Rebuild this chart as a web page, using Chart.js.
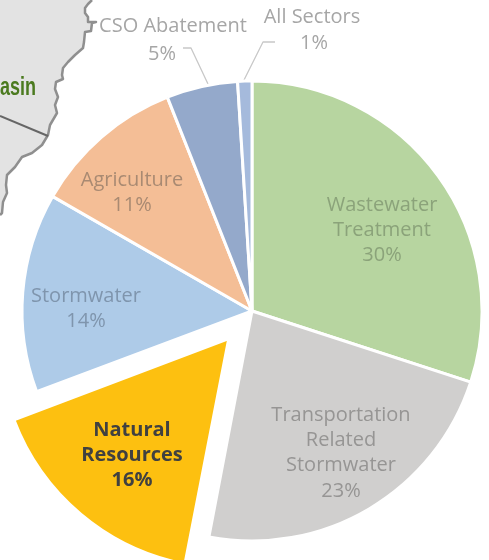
<!DOCTYPE html>
<html><head><meta charset="utf-8">
<style>html,body{margin:0;padding:0;background:#fff}#w{position:relative;width:489px;height:560px}</style>
<script src="https://cdn.jsdelivr.net/npm/chart.js@4"></script>
</head><body><div id="w"><canvas id="c" width="489" height="560"></canvas></div>
<script>
const categories = ["Wastewater Treatment","Transportation Related Stormwater","Natural Resources","Stormwater","Agriculture","CSO Abatement","All Sectors"];
const shares = [30,23,16.3,14,10.7,5,1];
const sliceColors = ["#B7D5A0","#D0CFCE","#FDC010","#AECBE8","#F4BE96","#94A9CB","#A5BADC"];
const labelLines = [["Wastewater","Treatment"],["Transportation","Related","Stormwater"],["Natural","Resources"],["Stormwater"],["Agriculture"],["CSO Abatement"],["All Sectors"]];
const labelCenters = [[382,230],[341,453],[132,455],[86,309],[132,193],[173,39],[312,30]];
const percentShift = {5:[-11,3],6:[2,1]};
const labelColors = ["#8BA37A","#969594","#404040","#7F95AD","#A98A72","#A6A6A6","#A6A6A6"];
const shore = [[92,0],[88,4],[85,8],[85,13],[88,17],[88,22],[96,22],[92,23],[91,31],[85,32],[84,42],[83,48],[75,55],[68,62],[63,68],[62,75],[63,79],[56,82],[55,89],[58,97],[55,105],[57,113],[50,125],[48,135],[42,145],[32,153],[22,157],[15,167],[7,175],[6,185],[7,193],[3,202],[2,213],[0,215]];
const FONT = '"Open Sans","Liberation Sans",sans-serif';
const backdrop = { id:"backdrop", beforeDatasetsDraw(ch){ const x=ch.ctx; 
  const arc=ch.getDatasetMeta(0).data[2]; arc.outerRadius=224.5;
  x.save();
  x.beginPath(); x.moveTo(0,0); shore.forEach(p=>x.lineTo(p[0],p[1])); x.closePath();
  x.fillStyle="#E3E3E3"; x.fill();
  x.beginPath(); shore.forEach((p,i)=>i?x.lineTo(p[0],p[1]):x.moveTo(p[0],p[1]));
  x.strokeStyle="#8F8F8F"; x.lineWidth=2.5; x.lineJoin="round"; x.stroke();
  x.beginPath(); x.moveTo(0,116); x.lineTo(48,136); x.strokeStyle="#666"; x.lineWidth=2; x.stroke();
  x.save(); x.scale(0.72,1); x.fillStyle="#4B7A1F"; x.font='bold 25px "Liberation Sans",sans-serif'; x.textAlign="left"; x.textBaseline="alphabetic"; x.fillText("asin",0,95); x.restore();
  x.strokeStyle="#C8C8C8"; x.lineWidth=1.3;
  x.beginPath(); x.moveTo(183,48); x.lineTo(191,48); x.lineTo(208,84); x.stroke();
  x.beginPath(); x.moveTo(275,42); x.lineTo(263,42); x.lineTo(244,80); x.stroke();
  x.restore(); } };
const labels = { id:"labels", afterDatasetsDraw(ch){ const x=ch.ctx; x.save(); x.textAlign="center"; x.textBaseline="middle";
  categories.forEach((c,i)=>{ const lines=labelLines[i].concat(Math.round(shares[i])+"%"), h=25.2, bold=i===2;
    const y0=labelCenters[i][1]-(lines.length-1)*h/2;
    x.fillStyle=labelColors[i]; x.font=(bold?"bold ":"")+"20px "+FONT;
    lines.forEach((t,k)=>{ const s=(k===lines.length-1&&percentShift[i])||[0,0];
      x.fillText(t,labelCenters[i][0]+s[0],y0+k*h+s[1]); }); });
  x.restore(); } };
new Chart(document.getElementById("c"),{type:"pie",
  data:{labels:categories,datasets:[{data:shares,backgroundColor:sliceColors,borderColor:"#fff",borderWidth:3,
    offset:shares.map((v,i)=>i===2?144:0)}]},
  options:{responsive:false,animation:false,radius:230,
    layout:{padding:{left:15,right:0,top:62,bottom:0}},
    plugins:{legend:{display:false},tooltip:{enabled:false}}},
  plugins:[backdrop,labels]});
</script></body></html>
